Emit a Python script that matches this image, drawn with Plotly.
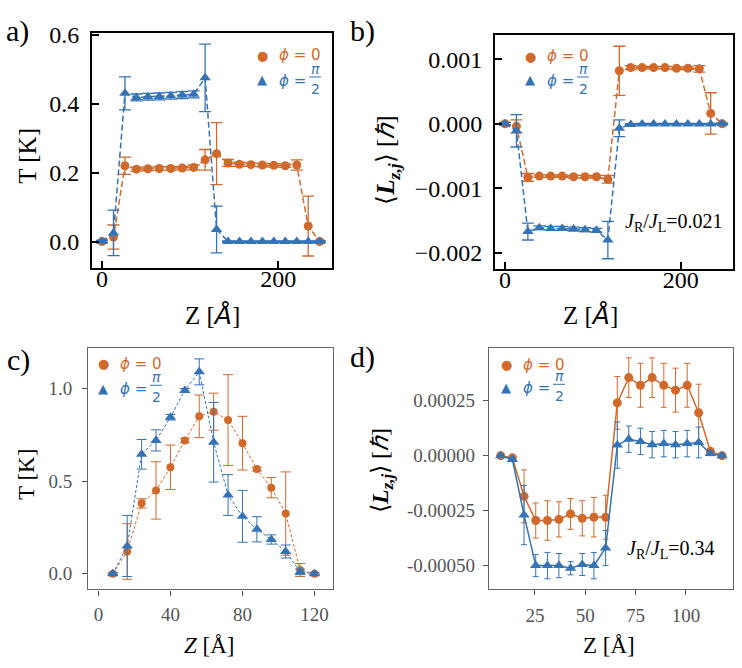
import plotly.graph_objects as go

W, H = 742, 668
ORANGE = "#d1692a"
BLUE = "#3474b6"
SERIF = "Liberation Serif"
SANS = "DejaVu Sans"

# ---------------- data ----------------
# panel a: temperature, J_R/J_L = 0.021
za = [0, 13, 26, 39, 52, 65, 78, 91, 104, 117, 130, 143, 156, 169, 182, 195, 208, 221, 234, 247]
Ta_0 = [0.0, 0.013, 0.22, 0.21, 0.211, 0.212, 0.212, 0.213, 0.215, 0.237, 0.255, 0.228,
        0.224, 0.223, 0.222, 0.221, 0.220, 0.222, 0.045, 0.0]
Ta_0_err = [0.003, 0.035, 0.025, 0.006, 0.005, 0.005, 0.005, 0.005, 0.007, 0.03, 0.09, 0.01,
            0.006, 0.005, 0.005, 0.005, 0.005, 0.015, 0.087, 0.003]
Ta_1 = [0.0, 0.025, 0.43, 0.418, 0.42, 0.421, 0.423, 0.425, 0.427, 0.475, 0.035, 0.0,
        0.0, 0.0, 0.0, 0.0, 0.0, 0.0, 0.0, 0.0]
Ta_1_err = [0.003, 0.066, 0.048, 0.01, 0.01, 0.01, 0.01, 0.01, 0.01, 0.098, 0.068, 0.002,
            0.002, 0.002, 0.002, 0.002, 0.002, 0.002, 0.002, 0.002]

# panel b: angular momentum, J_R/J_L = 0.021
Lb_0 = [0.0, -0.00004, -0.00083, -0.00081, -0.00081, -0.00081, -0.00082, -0.00082, -0.00082,
        -0.00086, 0.00082, 0.00087, 0.00087, 0.00087, 0.00087, 0.00086, 0.00086, 0.00085,
        0.00016, 0.0]
Lb_0_err = [0.00002, 0.0001, 0.00006, 0.00002, 0.00002, 0.00002, 0.00002, 0.00002, 0.00002,
            0.00006, 0.00038, 0.00003, 0.00002, 0.00002, 0.00002, 0.00002, 0.00002, 0.00005,
            0.00032, 0.00001]
Lb_1 = [0.0, -0.00011, -0.00167, -0.00161, -0.00162, -0.00162, -0.00163, -0.00164, -0.00165,
        -0.0018, -0.00007, -0.00001, -0.000005, -0.000005, -0.000005, -0.000005, -0.000005,
        -0.000005, -0.000005, 0.0]
Lb_1_err = [0.00002, 0.00025, 0.00013, 0.00003, 0.00003, 0.00003, 0.00003, 0.00003, 0.00003,
            0.00029, 0.00013, 0.00001, 0.00001, 0.00001, 0.00001, 0.00001, 0.00001, 0.00001,
            0.00001, 0.00001]

# panel c: temperature, J_R/J_L = 0.34
zc = [8, 16, 24, 32, 40, 48, 56, 64, 72, 80, 88, 96, 104, 112, 120]
Tc_0 = [0.0, 0.12, 0.38, 0.45, 0.575, 0.72, 0.85, 0.875, 0.83, 0.705, 0.565, 0.465, 0.325, 0.02, 0.0]
Tc_0_err = [0.005, 0.15, 0.025, 0.155, 0.12, 0.012, 0.115, 0.1, 0.245, 0.145, 0.01, 0.055, 0.225, 0.035, 0.005]
Tc_1 = [0.0, 0.15, 0.645, 0.72, 0.845, 0.99, 1.09, 0.71, 0.425, 0.31, 0.24, 0.185, 0.12, 0.01, 0.0]
Tc_1_err = [0.005, 0.165, 0.08, 0.057, 0.015, 0.01, 0.07, 0.215, 0.11, 0.14, 0.068, 0.025, 0.035, 0.015, 0.005]

# panel d: angular momentum, J_R/J_L = 0.34
zd = [8.0, 13.8, 19.6, 25.4, 31.2, 36.9, 42.7, 48.5, 54.3, 60.1, 65.9, 71.6, 77.4, 83.2,
      89.0, 94.8, 100.6, 106.3, 112.1, 117.9]
Ld_0 = [0.0, -0.00001, -0.000185, -0.000295, -0.000295, -0.00029, -0.000265, -0.000285,
        -0.00028, -0.00028, 0.00024, 0.000355, 0.00032, 0.000355, 0.00032, 0.000298, 0.00032,
        0.000195, 0.00002, 0.0]
Ld_0_err = [0.000005, 0.00001, 0.00012, 0.00008, 0.00009, 0.00008, 0.00007, 0.00008, 0.00009,
            0.0001, 0.00012, 0.00009, 0.0001, 0.00009, 0.0001, 0.0001, 0.0001, 0.00013,
            0.00001, 0.000005]
Ld_1 = [0.0, -0.000017, -0.00027, -0.0005, -0.0005, -0.0005, -0.000512, -0.000495, -0.0005,
        -0.00042, 0.000048, 0.000075, 0.000065, 0.00005, 0.000055, 0.00005, 0.000055, 0.00006,
        0.00001, 0.0]
Ld_1_err = [0.000005, 0.00001, 0.000135, 0.00005, 0.00006, 0.000055, 0.00003, 0.00005, 0.00006,
            0.00008, 0.000105, 0.00006, 0.00006, 0.00006, 0.00006, 0.00006, 0.00006, 0.00007,
            0.00001, 0.000005]

# tick labels
a_xt, a_xl = [0, 200], ["0", "200"]
a_yt, a_yl = [0.0, 0.2, 0.4, 0.6], ["0.0", "0.2", "0.4", "0.6"]
b_xt, b_xl = [0, 200], ["0", "200"]
b_yt, b_yl = [-0.002, -0.001, 0.0, 0.001], ["\u22120.002", "\u22120.001", "0.000", "0.001"]
c_xt, c_xl = [0, 40, 80, 120], ["0", "40", "80", "120"]
c_yt, c_yl = [0.0, 0.5, 1.0], ["0.0", "0.5", "1.0"]
d_xt, d_xl = [25, 50, 75, 100], ["25", "50", "75", "100"]
d_yt, d_yl = [-0.0005, -0.00025, 0.0, 0.00025], ["-0.00050", "-0.00025", "0.00000", "0.00025"]

names = ["\u03d5 = 0", "\u03d5 = \u03c0/2"]

# ---------------- figure ----------------
fig = go.Figure()


def add_series(x, y, e, color, symbol, size, ax, dash, lw, cap, ew, name):
    fig.add_trace(go.Scatter(
        x=x, y=y, mode="lines+markers", name=name, showlegend=False,
        xaxis="x" + ax, yaxis="y" + ax,
        line=dict(color=color, width=lw, dash=dash),
        marker=dict(symbol=symbol, size=size, color=color),
        error_y=dict(type="data", array=e, visible=True, color=color, thickness=ew, width=cap),
    ))


add_series(za, Ta_0, Ta_0_err, ORANGE, "circle", 9, "", "6px,3px", 1.5, 6, 1.3, names[0])
add_series(za, Ta_1, Ta_1_err, BLUE, "triangle-up", 10, "", "6px,3px", 1.5, 6, 1.3, names[1])
add_series(za, Lb_0, Lb_0_err, ORANGE, "circle", 9, "2", "6px,3px", 1.5, 6, 1.3, names[0])
add_series(za, Lb_1, Lb_1_err, BLUE, "triangle-up", 10, "2", "6px,3px", 1.5, 6, 1.3, names[1])
add_series(zc, Tc_0, Tc_0_err, ORANGE, "circle", 8, "3", "3px,2px", 1.0, 5, 1.0, names[0])
add_series(zc, Tc_1, Tc_1_err, BLUE, "triangle-up", 10, "3", "3px,2px", 1.0, 5, 1.0, names[1])
add_series(zd, Ld_0, Ld_0_err, ORANGE, "circle", 9, "4", "solid", 1.5, 3, 1.0, names[0])
add_series(zd, Ld_1, Ld_1_err, BLUE, "triangle-up", 10, "4", "solid", 1.5, 3, 1.0, names[1])


def px_x(p):
    return p / W


def px_y(p):
    return 1 - p / H


def black_axis(dom, rng, tv, tt, anchor, standoff):
    return dict(domain=dom, range=rng, anchor=anchor, tickvals=tv, ticktext=tt,
                ticks="inside", ticklen=7, tickwidth=1.5, tickcolor="black",
                showline=True, mirror=True, linecolor="black", linewidth=2,
                showgrid=False, zeroline=False, ticklabelstandoff=standoff,
                tickfont=dict(family=SERIF, size=24, color="black"))


def gray_axis(dom, rng, tv, tt, anchor, standoff):
    return dict(domain=dom, range=rng, anchor=anchor, tickvals=tv, ticktext=tt,
                ticks="outside", ticklen=5, tickwidth=1.3, tickcolor="#555555",
                showline=True, mirror=True, linecolor="#666666", linewidth=1.3,
                showgrid=False, zeroline=False, ticklabelstandoff=standoff,
                tickfont=dict(family=SERIF, size=19, color="#555555"))


layout = dict(
    width=W, height=H, margin=dict(l=0, r=0, t=0, b=0),
    paper_bgcolor="white", plot_bgcolor="white", showlegend=False,
    font=dict(family=SERIF),
    xaxis=black_axis([px_x(92), px_x(332)], [-11.4, 261], a_xt, a_xl, "y", -12),
    yaxis=black_axis([px_y(262), px_y(23)], [-0.077, 0.606], a_yt, a_yl, "x", 6),
    xaxis2=black_axis([px_x(495), px_x(732.7)], [-11.4, 259], b_xt, b_xl, "y2", -12),
    yaxis2=black_axis([px_y(263), px_y(25)], [-0.00225, 0.00138], b_yt, b_yl, "x2", 6),
    xaxis3=gray_axis([px_x(88.3), px_x(332.7)], [-5.6, 130.1], c_xt, c_xl, "y3", 3),
    yaxis3=gray_axis([px_y(588.3), px_y(343.3)], [-0.085, 1.218], c_yt, c_yl, "x3", 6),
    xaxis4=gray_axis([px_x(489), px_x(733.3)], [2.2, 123.5], d_xt, d_xl, "y4", 4),
    yaxis4=gray_axis([px_y(587.7), px_y(343.3)], [-0.000606, 0.000489], d_yt, d_yl, "x4", 4),
)
fig.update_layout(**layout)

ann = []
shapes = []


def text(x, y, s, size, family=SERIF, color="black", angle=0, xanchor="center"):
    ann.append(dict(x=px_x(x), y=px_y(y), xref="paper", yref="paper", text=s, showarrow=False,
                    xanchor=xanchor, yanchor="middle", textangle=angle, borderpad=0,
                    font=dict(family=family, size=size, color=color)))


# panel labels
text(17, 21, "a)", 30)
text(362, 21, "b)", 30)
text(18, 355, "c)", 30)
text(362, 352, "d)", 30)

# axis titles
ZA = "Z [<i><span style='font-family:DejaVu Sans'>\u00c5</span></i>]"
LZ = "\u27e8<i><b>L</b></i><sub><i><b>z,j</b></i></sub>\u27e9 [<i>\u210f</i>]"
text(28, 148, "T [K]", 25, angle=-90)
text(212, 310, ZA, 25)
text(388, 153, LZ, 25, angle=-90)
text(590, 310, ZA, 25)
text(27, 472, "T [K]", 23, angle=-90)
text(209, 645, "<i>Z</i> [\u00c5]", 23)
text(382, 468, LZ, 24, angle=-90)
text(609, 645, "Z [\u00c5]", 23)

# coupling ratio labels
text(674, 216, "<i>J</i><sub>R</sub>/<i>J</i><sub>L</sub>=0.021", 20)
text(671, 548, "<i>J</i><sub>R</sub>/<i>J</i><sub>L</sub>=0.34", 20)


# legends
def legend(mx, y1, dy):
    y2 = y1 + dy
    tx = mx + 16
    text(mx, y1, "\u25cf", 13, SANS, ORANGE)
    text(mx, y2 - 1, "\u25b2", 13, SANS, BLUE)
    text(tx, y1, "<i>\u03d5</i> = 0", 15, SANS, ORANGE, xanchor="left")
    text(tx, y2, "<i>\u03d5</i> =", 15, SANS, BLUE, xanchor="left")
    fx = tx + 37
    text(fx, y2 - 12, "<i>\u03c0</i>", 14, SANS, BLUE)
    text(fx, y2 + 8, "2", 14, SANS, BLUE)
    shapes.append(dict(type="line", xref="paper", yref="paper",
                       x0=px_x(fx - 6), x1=px_x(fx + 6), y0=px_y(y2 - 4), y1=px_y(y2 - 4),
                       line=dict(color=BLUE, width=1)))


legend(262, 46, 26)
legend(530, 47, 25)
legend(103, 359, 26)
legend(506, 360, 24)

fig.update_layout(annotations=ann, shapes=shapes)
fig.write_html("out.html")
